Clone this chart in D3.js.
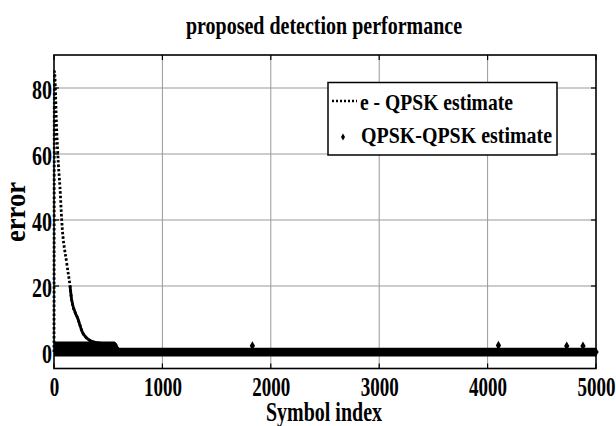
<!DOCTYPE html>
<html lang="en">

<head>
  <meta charset="UTF-8">
  <title>detection</title>
  <script src="https://d3js.org/d3.v7.min.js"></script>
  <style>
    body { margin: 0; background: #fff; }
    text { font-family: "Liberation Serif", "Times New Roman", serif; font-weight: bold; fill: #000; }
  </style>
</head>

<body>

  <div id="chart"></div>

  <script>
    // values
    var xTicks = [0, 1000, 2000, 3000, 4000, 5000];
    var yTicks = [0, 20, 40, 60, 80];

    // e - QPSK estimate (dotted)
    var eIdx = [0, 4, 25, 40, 55, 71, 117, 148, 163, 221, 268, 360, 450, 560, 600, 1000, 2000, 3000, 4000, 5000];
    var eVal = [0, 85, 67, 57, 50, 40, 27, 20, 15.8, 10, 5.6, 3.1, 2.6, 2.5, 0.6, 0.5, 0.5, 0.5, 0.5, 0.5];

    // QPSK-QPSK estimate: dense markers around zero, drawn as their envelope
    var bandIdx = [0, 560, 590, 5000];
    var bandHigh = [3.2, 3.2, 1.3, 1.3];
    var bandLow = [-1.4, -1.4, -1.4, -1.4];
    // isolated markers sticking out of the band
    var spikeIdx = [1830, 4100, 4730, 4880, 5000];
    var spikeVal = [1.9, 2.0, 1.8, 1.8, 0];

    var W = 616, H = 426;
    var svg = d3.select("#chart").append("svg").attr("width", W).attr("height", H);

    var x = d3.scaleLinear().domain([0, 5000]).range([54, 596]);
    var y = d3.scaleLinear().domain([-5, 90]).range([368.5, 55]);

    // grid
    svg.append("g").selectAll("line").data(xTicks.slice(1, -1)).join("line")
      .attr("x1", d => x(d)).attr("x2", d => x(d)).attr("y1", y(90)).attr("y2", y(-5))
      .attr("stroke", "#999").attr("stroke-width", 1);
    svg.append("g").selectAll("line").data(yTicks).join("line")
      .attr("x1", x(0)).attr("x2", x(5000)).attr("y1", d => y(d)).attr("y2", d => y(d))
      .attr("stroke", "#999").attr("stroke-width", 1);

    // inward tick marks on all four sides
    var tk = svg.append("g").attr("stroke", "#000").attr("stroke-width", 1.2);
    xTicks.forEach(function (d) {
      tk.append("line").attr("x1", x(d)).attr("x2", x(d)).attr("y1", y(-5)).attr("y2", y(-5) - 5);
      tk.append("line").attr("x1", x(d)).attr("x2", x(d)).attr("y1", y(90)).attr("y2", y(90) + 5);
    });
    yTicks.forEach(function (d) {
      tk.append("line").attr("x1", x(0)).attr("x2", x(0) + 5).attr("y1", y(d)).attr("y2", y(d));
      tk.append("line").attr("x1", x(5000)).attr("x2", x(5000) - 5).attr("y1", y(d)).attr("y2", y(d));
    });

    // QPSK-QPSK band
    var area = d3.area().x((d, i) => x(bandIdx[i])).y0((d, i) => y(bandLow[i])).y1((d, i) => y(bandHigh[i]));
    svg.append("path").datum(bandIdx).attr("d", area).attr("fill", "#000");
    svg.append("g").selectAll("path").data(spikeIdx).join("path")
      .attr("transform", (d, i) => "translate(" + x(d) + "," + y(spikeVal[i]) + ")")
      .attr("d", d3.symbol(d3.symbolDiamond, 24)).attr("fill", "#000");

    // e - QPSK dotted curve; the dense low part reads as a solid line
    var line = d3.line().x((d, i) => x(eIdx[i])).y((d, i) => y(eVal[i])).curve(d3.curveMonotoneX);
    svg.append("path").datum(eIdx).attr("d", line)
      .attr("fill", "none").attr("stroke", "#000").attr("stroke-width", 2.8).attr("stroke-dasharray", "2.5,2");
    var tail = eIdx.map((d, i) => i).filter(i => eVal[i] <= 20 && i > 0);
    var line2 = d3.line().x(i => x(eIdx[i])).y(i => y(eVal[i])).curve(d3.curveMonotoneX);
    svg.append("path").datum(tail).attr("d", line2)
      .attr("fill", "none").attr("stroke", "#000").attr("stroke-width", 2.8);

    // box
    svg.append("rect").attr("x", x(0)).attr("y", y(90)).attr("width", x(5000) - x(0)).attr("height", y(-5) - y(90))
      .attr("fill", "none").attr("stroke", "#000").attr("stroke-width", 1.6);

    // axes labels
    var xa = svg.append("g").attr("transform", "translate(0," + y(-5) + ")")
      .call(d3.axisBottom(x).tickValues(xTicks).tickSize(0).tickPadding(8).tickFormat(d3.format("d")));
    xa.select(".domain").remove();
    xa.selectAll("text").attr("font-size", 28).attr("font-family", null)
      .attr("textLength", d => String(d).length * 9.5).attr("lengthAdjust", "spacingAndGlyphs");

    var ya = svg.append("g").attr("transform", "translate(" + x(0) + ",0)")
      .call(d3.axisLeft(y).tickValues(yTicks).tickSize(0).tickPadding(2));
    ya.select(".domain").remove();
    ya.selectAll("text").attr("font-size", 28).attr("font-family", null).attr("dy", "0.36em")
      .attr("textLength", d => String(d).length * 10).attr("lengthAdjust", "spacingAndGlyphs");

    function label(px, py, s, size, len, anchor) {
      return svg.append("text").attr("x", px).attr("y", py).attr("font-size", size)
        .attr("text-anchor", anchor || "middle")
        .attr("textLength", len).attr("lengthAdjust", "spacingAndGlyphs").text(s);
    }

    label(324, 34, "proposed detection performance", 25, 276);
    label(324, 421, "Symbol index", 28, 116);
    svg.append("text").attr("transform", "translate(25,212) rotate(-90)")
      .attr("font-size", 29).attr("text-anchor", "middle")
      .attr("textLength", 60).attr("lengthAdjust", "spacingAndGlyphs").text("error");

    // legend
    var lg = svg.append("g");
    lg.append("rect").attr("x", 328).attr("y", 82.5).attr("width", 229).attr("height", 72.5)
      .attr("fill", "#fff").attr("stroke", "#000").attr("stroke-width", 1.5);
    lg.append("line").attr("x1", 332).attr("x2", 357).attr("y1", 101).attr("y2", 101)
      .attr("stroke", "#000").attr("stroke-width", 2.5).attr("stroke-dasharray", "2,2");
    lg.append("path").attr("transform", "translate(343,137)")
      .attr("d", d3.symbol(d3.symbolDiamond, 14)).attr("fill", "#000");
    label(360, 110, "e - QPSK estimate", 23, 153, "start");
    label(361, 143, "QPSK-QPSK estimate", 23, 191, "start");
  </script>

</body>

</html>
